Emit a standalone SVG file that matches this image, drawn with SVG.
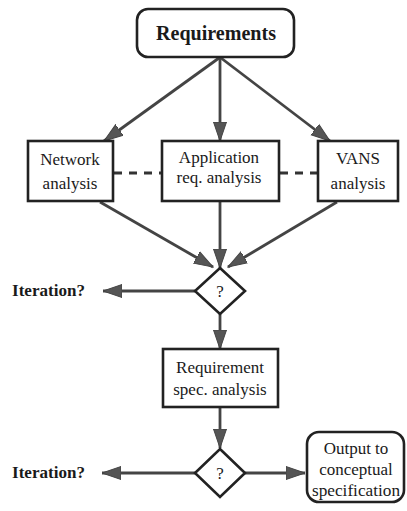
<svg xmlns="http://www.w3.org/2000/svg" width="407" height="511" viewBox="0 0 407 511">
  <style>
    .box { fill: #ffffff; stroke: #222; stroke-width: 2.6; }
    .line { fill: none; stroke: #444; stroke-width: 2.8; }
    .dash { fill: none; stroke: #333; stroke-width: 2.8; stroke-dasharray: 8 7; }
    .lbl { font-family: "Liberation Serif", "DejaVu Serif", serif; font-size: 17px; fill: #1a1a1a; text-anchor: middle; }
    .bold { font-family: "Liberation Serif", "DejaVu Serif", serif; font-weight: bold; fill: #1a1a1a; }
  </style>
  <defs>
    <marker id="arrow" markerUnits="userSpaceOnUse" markerWidth="20" markerHeight="16" viewBox="0 0 20 16" refX="19" refY="8" orient="auto">
      <path d="M0,1.5 L19,8 L0,14.5 Z" fill="#555" stroke="#444" stroke-width="1"/>
    </marker>
  </defs>
  <rect width="407" height="511" fill="#ffffff"/>

  <g id="connectors">
    <!-- fan-out from Requirements -->
    <line class="line" x1="219" y1="58" x2="104" y2="141" marker-end="url(#arrow)"/>
    <line class="line" x1="220" y1="58" x2="220" y2="141" marker-end="url(#arrow)"/>
    <line class="line" x1="221" y1="58" x2="330" y2="141" marker-end="url(#arrow)"/>
    <!-- dashed links between analyses -->
    <line class="dash" x1="114" y1="173" x2="161" y2="173"/>
    <line class="dash" x1="280" y1="173" x2="318" y2="173"/>
    <!-- fan-in to first decision -->
    <line class="line" x1="100" y1="202" x2="213" y2="267" marker-end="url(#arrow)"/>
    <line class="line" x1="220" y1="202" x2="220" y2="268" marker-end="url(#arrow)"/>
    <line class="line" x1="337" y1="202" x2="228" y2="267" marker-end="url(#arrow)"/>
    <!-- first decision outputs -->
    <line class="line" x1="195" y1="291" x2="103" y2="291" marker-end="url(#arrow)"/>
    <line class="line" x1="220" y1="314" x2="220" y2="349" marker-end="url(#arrow)"/>
    <!-- spec analysis to second decision -->
    <line class="line" x1="220" y1="408" x2="220" y2="448" marker-end="url(#arrow)"/>
    <!-- second decision outputs -->
    <line class="line" x1="195" y1="473" x2="102" y2="473" marker-end="url(#arrow)"/>
    <line class="line" x1="245" y1="473" x2="305" y2="473" marker-end="url(#arrow)"/>
  </g>

  <g id="requirements">
    <rect class="box" x="137" y="9" width="157" height="48" rx="11"/>
    <text class="bold" x="216" y="40" font-size="20" text-anchor="middle" textLength="120" lengthAdjust="spacingAndGlyphs">Requirements</text>
  </g>

  <g id="network-analysis">
    <rect class="box" x="28" y="141" width="85" height="60"/>
    <text class="lbl" x="70" y="165">Network</text>
    <text class="lbl" x="70" y="189">analysis</text>
  </g>

  <g id="application-analysis">
    <rect class="box" x="162" y="141" width="117" height="60"/>
    <text class="lbl" x="219" y="163">Application</text>
    <text class="lbl" x="219" y="183">req. analysis</text>
  </g>

  <g id="vans-analysis">
    <rect class="box" x="318" y="141" width="80" height="60"/>
    <text class="lbl" x="358" y="164">VANS</text>
    <text class="lbl" x="358" y="189">analysis</text>
  </g>

  <g id="decision-1">
    <polygon class="box" points="220,268 245,291 220,314 195,291"/>
    <text class="lbl" x="220" y="297">?</text>
  </g>

  <g id="iteration-1">
    <text class="bold" x="12" y="296" font-size="16" textLength="73" lengthAdjust="spacingAndGlyphs">Iteration?</text>
  </g>

  <g id="requirement-spec-analysis">
    <rect class="box" x="163" y="349" width="115" height="58"/>
    <text class="lbl" x="220" y="373">Requirement</text>
    <text class="lbl" x="220" y="395">spec. analysis</text>
  </g>

  <g id="decision-2">
    <polygon class="box" points="220,449 245,473 220,497 195,473"/>
    <text class="lbl" x="220" y="479">?</text>
  </g>

  <g id="iteration-2">
    <text class="bold" x="12" y="478" font-size="16" textLength="73" lengthAdjust="spacingAndGlyphs">Iteration?</text>
  </g>

  <g id="output">
    <rect class="box" x="307" y="432" width="97" height="70" rx="12"/>
    <text class="lbl" x="356" y="454" font-size="16">Output to</text>
    <text class="lbl" x="356" y="475" font-size="16">conceptual</text>
    <text class="lbl" x="356" y="496" font-size="16" textLength="88" lengthAdjust="spacingAndGlyphs">specification</text>
  </g>
</svg>
